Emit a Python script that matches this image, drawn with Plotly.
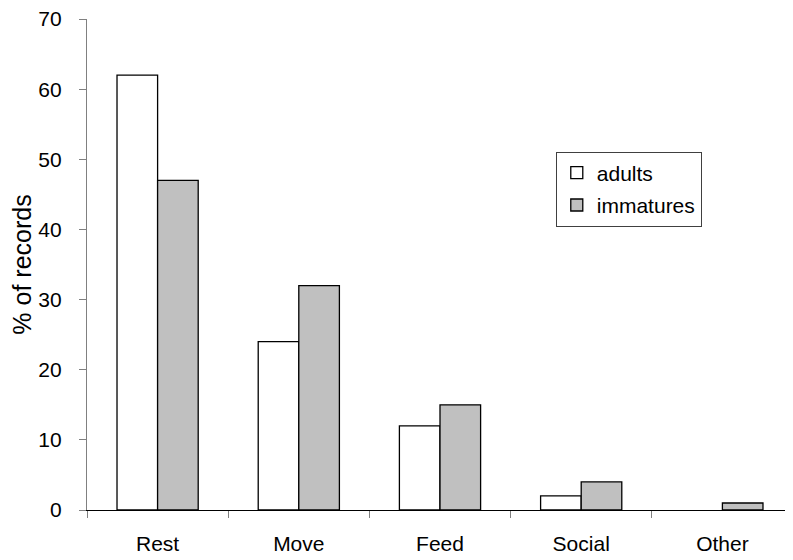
import plotly.graph_objects as go

categories = ["Rest", "Move", "Feed", "Social", "Other"]
adults = [62, 24, 12, 2, 0]
immatures = [47, 32, 15, 4, 1]
y_ticks = [0, 10, 20, 30, 40, 50, 60, 70]

FONT = "Liberation Sans, Arial, sans-serif"


def outline_widths(values, w=1.3):
    return [w if v > 0 else 0 for v in values]


fig = go.Figure()
fig.add_trace(go.Bar(
    x=categories, y=adults, name="adults", legendgroup="a",
    marker=dict(color="white", line=dict(color="black", width=outline_widths(adults))),
))
fig.add_trace(go.Bar(
    x=categories, y=immatures, name="immatures", legendgroup="b",
    marker=dict(color="#c0c0c0", line=dict(color="black", width=outline_widths(immatures))),
))

fig.update_layout(
    width=793, height=560,
    margin=dict(l=79, r=8, t=11, b=58),
    paper_bgcolor="white", plot_bgcolor="white",
    barmode="group", bargap=0.425, bargroupgap=0,
    font=dict(family=FONT, size=21, color="black"),
    legend=dict(
        x=0.664, y=0.73, xanchor="left", yanchor="top",
        bordercolor="#404040", borderwidth=1, bgcolor="white",
        font=dict(size=21), itemwidth=30, traceorder="grouped", tracegroupgap=2,
    ),
    showlegend=True,
)
fig.update_xaxes(
    type="category", range=[-0.5, 4.5],
    showline=True, linecolor="black", linewidth=1.3,
    ticks="outside", tickson="boundaries", ticklen=7, tickcolor="#808080",
    tickwidth=1.3, showgrid=False, ticklabelstandoff=15,
)
fig.update_yaxes(
    range=[0, 70.001], tickvals=y_ticks, showgrid=False, zeroline=False,
    showline=True, linecolor="#808080", linewidth=1.3,
    ticks="outside", ticklen=7, tickcolor="#808080", tickwidth=1.3,
    title=dict(text="% of records", standoff=14), ticklabelstandoff=13,
    ticklabeloverflow="allow", automargin=False,
)

fig.write_html("out.html")
